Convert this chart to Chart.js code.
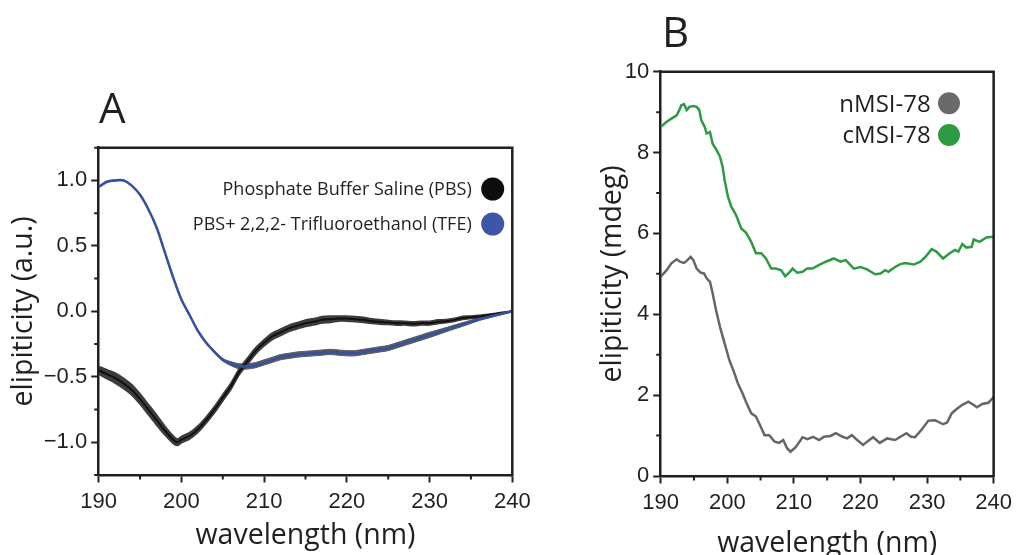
<!DOCTYPE html>
<html><head><meta charset="utf-8">
<script src="https://cdn.jsdelivr.net/npm/chart.js@4.4.0/dist/chart.umd.min.js"></script>
<style>
html,body{margin:0;padding:0;background:#fff;overflow:hidden;width:1018px;height:555px;}
canvas{position:absolute;top:0;}
#cA{left:0;}
#cB{left:545px;}
</style></head><body>
<canvas id="cA" width="545" height="555"></canvas>
<canvas id="cB" width="473" height="565"></canvas>
<script>
// ---------- Panel A data ----------
const pbsWavelength = [190,191,192,193,194,195,196,197,198,199,199.5,200,201,202,203,204,205,206,207,208,209,210,211,212,213,214,215,216,217,218,219,220,221,222,223,224,225,226,227,228,229,230,231,232,233,234,235,236,237,238,239,240];
const pbsValue = [-0.45,-0.48,-0.51,-0.55,-0.60,-0.67,-0.75,-0.83,-0.91,-0.98,-1.0,-0.98,-0.95,-0.90,-0.83,-0.75,-0.66,-0.57,-0.46,-0.38,-0.30,-0.24,-0.19,-0.16,-0.13,-0.11,-0.09,-0.08,-0.065,-0.06,-0.055,-0.055,-0.06,-0.065,-0.075,-0.08,-0.085,-0.09,-0.09,-0.095,-0.09,-0.09,-0.08,-0.075,-0.065,-0.05,-0.045,-0.04,-0.03,-0.02,-0.01,0];
const pbsError = [0.03,0.035,0.04,0.04,0.04,0.04,0.04,0.04,0.035,0.03,0.025,0.025,0.025,0.025,0.025,0.025,0.025,0.025,0.025,0.025,0.025,0.025,0.025,0.025,0.025,0.025,0.025,0.025,0.025,0.025,0.02,0.02,0.02,0.02,0.018,0.018,0.016,0.016,0.015,0.015,0.015,0.015,0.015,0.012,0.012,0.012,0.01,0.01,0.008,0.006,0.005,0.004];
const tfeWavelength = [190,191,192,193,194,195,196,197,198,199,200,201,202,203,204,205,206,207,208,209,210,211,212,213,214,215,216,217,218,219,220,221,222,223,224,225,226,227,228,229,230,231,232,233,234,235,236,237,238,239,240];
const tfeValue = [0.95,0.99,1.0,1.0,0.96,0.89,0.78,0.64,0.45,0.26,0.09,-0.03,-0.15,-0.24,-0.31,-0.37,-0.40,-0.42,-0.42,-0.41,-0.39,-0.37,-0.35,-0.34,-0.33,-0.325,-0.32,-0.315,-0.31,-0.315,-0.32,-0.32,-0.31,-0.30,-0.29,-0.28,-0.26,-0.24,-0.22,-0.20,-0.18,-0.16,-0.14,-0.12,-0.10,-0.08,-0.06,-0.045,-0.03,-0.015,0];
const tfeError = [0.005,0.005,0.005,0.005,0.005,0.005,0.005,0.005,0.005,0.005,0.005,0.005,0.005,0.006,0.008,0.01,0.015,0.02,0.02,0.02,0.02,0.02,0.02,0.02,0.02,0.02,0.02,0.02,0.02,0.02,0.02,0.02,0.02,0.02,0.02,0.02,0.02,0.02,0.02,0.02,0.02,0.018,0.016,0.015,0.014,0.012,0.01,0.008,0.006,0.005,0.004];
const seriesLabelsA = ['Phosphate Buffer Saline (PBS)','PBS+ 2,2,2- Trifluoroethanol (TFE)'];
const yTicksA = [-1.0,-0.5,0.0,0.5,1.0];
const yMinorA = [-1.25,-0.75,-0.25,0.25,0.75,1.25];
const xTicks = [190,200,210,220,230,240];
const xMinor = [195,205,215,225,235];

// ---------- Panel B data ----------
const cmsiWavelength = [190,190.9,191.9,192.4,192.8,193.1,193.5,193.9,194.3,194.9,195.4,195.8,196.1,196.6,196.9,197.4,197.8,198.4,198.9,199.3,199.6,200.1,200.6,201.3,202.1,202.8,203.6,204.3,205.1,205.8,206.6,207.3,208.1,208.7,209.3,209.8,210.5,211.3,212.0,212.8,213.8,214.8,216.0,217.0,217.8,219.0,220.0,221.0,222.2,223.0,223.7,224.2,225.2,226.0,226.7,228.0,229.0,229.7,230.7,231.4,232.4,233.4,234.2,234.7,235.3,235.9,236.7,237.0,237.9,238.9,240];
const cmsiValue = [8.64,8.76,8.87,8.92,9.05,9.17,9.20,9.05,9.13,9.15,9.13,9.05,8.80,8.64,8.47,8.51,8.22,8.06,7.90,7.65,7.32,6.91,6.66,6.46,6.12,6.02,5.79,5.51,5.51,5.38,5.13,5.13,5.09,4.94,5.03,5.13,5.03,5.05,5.13,5.13,5.22,5.30,5.38,5.30,5.34,5.13,5.17,5.11,4.99,5.01,5.09,5.05,5.17,5.24,5.27,5.23,5.30,5.41,5.61,5.55,5.38,5.51,5.59,5.55,5.74,5.65,5.67,5.85,5.79,5.90,5.92];
const nmsiWavelength = [190,190.9,191.6,192.4,192.9,193.5,193.9,194.5,194.9,195.4,196.0,196.5,196.9,197.4,197.8,198.3,198.9,199.6,200.3,200.9,201.6,202.3,202.9,203.6,204.3,204.8,205.6,206.3,207.1,207.8,208.4,209.0,209.5,210.3,211.3,212.0,212.9,213.8,214.5,215.5,216.3,217.3,218.0,218.7,219.5,220.4,221.0,221.9,222.9,224.0,225.2,226.0,226.9,227.6,228.2,229.2,230.2,231.2,232.4,233.0,233.7,234.4,235.3,236.2,236.9,237.5,238.3,239.2,240];
const nmsiValue = [4.93,5.09,5.26,5.36,5.30,5.27,5.32,5.42,5.34,5.13,5.03,5.01,4.89,4.80,4.52,4.11,3.69,3.28,2.87,2.62,2.29,2.04,1.80,1.55,1.47,1.30,1.01,1.01,0.85,0.82,0.89,0.68,0.60,0.72,0.96,0.91,0.97,0.89,0.97,0.99,1.06,0.97,0.93,1.01,0.89,0.77,0.85,0.96,0.82,0.93,0.89,0.97,1.06,0.97,0.96,1.15,1.37,1.38,1.28,1.32,1.55,1.65,1.76,1.84,1.77,1.70,1.78,1.81,1.95];
const seriesLabelsB = ['nMSI-78','cMSI-78'];
const yTicksB = [0,2,4,6,8,10];
const yMinorB = [1,3,5,7,9];

const INK = '#231f20';
const pts = (xs, ys) => xs.map((x,i)=>({x, y: ys[i]}));
const band = (xs, ys, es, s) => xs.map((x,i)=>({x, y: ys[i] + s*es[i]}));

const decor = {
  id:'decor',
  afterDraw(chart, args, o){
    const {ctx, chartArea:a, scales} = chart;
    ctx.save();
    ctx.strokeStyle = INK; ctx.lineWidth = 2.5; ctx.lineCap='square';
    ctx.beginPath();
    ctx.moveTo(a.left, a.top); ctx.lineTo(a.right, a.top); ctx.lineTo(a.right, a.bottom);
    ctx.stroke();
    ctx.lineWidth = 2; ctx.lineCap='butt';
    ctx.beginPath();
    o.minorX.forEach(v=>{const x = scales.x.getPixelForValue(v); ctx.moveTo(x, a.bottom); ctx.lineTo(x, a.bottom+4.5);});
    o.minorY.forEach(v=>{const y = scales.y.getPixelForValue(v); ctx.moveTo(a.left, y); ctx.lineTo(a.left-4.5, y);});
    ctx.stroke();
    // panel letter
    ctx.fillStyle = INK;
    ctx.font = '42px "Open Sans"';
    ctx.textAlign = 'left'; ctx.textBaseline = 'alphabetic';
    ctx.fillText(o.letter, o.letterX, o.letterY);
    // legend
    ctx.font = o.legendFont;
    ctx.textAlign = 'right';
    o.items.forEach((it, i)=>{
      ctx.fillStyle = INK;
      ctx.fillText(it.label, o.textRight, o.baselines[i]);
      ctx.fillStyle = it.color;
      ctx.beginPath(); ctx.arc(o.circleX, o.circleY[i], o.r, 0, Math.PI*2); ctx.fill();
    });
    ctx.restore();
  }
};

const fmt = v => (v < 0 ? '\u2212' : '') + Math.abs(v).toFixed(1);

function axes(xT, yT, yMin, yMax, yW, xH, yTitle, yTitlePad, xTitlePad, yFmt){
  return {
    x: {
      type:'linear', min:190, max:240,
      afterBuildTicks: s => { s.ticks = xT.map(v=>({value:v})); },
      afterFit: s => { s.height = xH; },
      ticks: { color: INK, font:{family:'"Liberation Sans", Arial', size:22}, padding:6, maxRotation:0, autoSkip:false },
      grid: { drawOnChartArea:false, tickLength:7.5, tickWidth:2, tickColor:INK },
      border: { display:true, color:INK, width:2.5 },
      title: { display:true, text:'wavelength (nm)', color:INK, font:{family:'"Open Sans"', size:28.5}, padding:{top:0, bottom:xTitlePad} }
    },
    y: {
      type:'linear', min:yMin, max:yMax,
      afterBuildTicks: s => { s.ticks = yT.map(v=>({value:v})); },
      afterFit: s => { s.width = yW; },
      ticks: { color: INK, font:{family:'"Liberation Sans", Arial', size:22}, padding:4, callback: yFmt },
      grid: { drawOnChartArea:false, tickLength:7.5, tickWidth:2, tickColor:INK },
      border: { display:true, color:INK, width:2.5 },
      title: { display:true, text:yTitle, color:INK, font:{family:'"Open Sans"', size:28.5}, padding:{top:yTitlePad, bottom:0} }
    }
  };
}

// ---------- Chart A ----------
new Chart(document.getElementById('cA'), {
  type:'line',
  data:{ datasets:[
    { data: band(tfeWavelength, tfeValue, tfeError, 1), fill:'+1', backgroundColor:'#5a5a5a', borderColor:'#5a5a5a', borderWidth:1, pointRadius:0, tension:0.3, order:5 },
    { data: band(tfeWavelength, tfeValue, tfeError, -1), fill:false, borderColor:'#5a5a5a', borderWidth:1, pointRadius:0, tension:0.3, order:5 },
    { data: band(pbsWavelength, pbsValue, pbsError, 1), fill:'+1', backgroundColor:'#3d3d3d', borderColor:'#3d3d3d', borderWidth:1.5, pointRadius:0, tension:0.3, order:4 },
    { data: band(pbsWavelength, pbsValue, pbsError, -1), fill:false, borderColor:'#3d3d3d', borderWidth:1.5, pointRadius:0, tension:0.3, order:4 },
    { label: seriesLabelsA[0], data: pts(pbsWavelength, pbsValue), borderColor:'#111', borderWidth:2, pointRadius:0, tension:0.3, fill:false, order:1 },
    { label: seriesLabelsA[1], data: pts(tfeWavelength, tfeValue), borderColor:'#3452a3', borderWidth:2.5, pointRadius:0, tension:0.3, fill:false, order:0 }
  ]},
  options:{
    responsive:false, animation:false, devicePixelRatio:1,
    layout:{ padding:{ top:147.7, right:32.7, bottom:0, left:0 } },
    plugins:{ legend:{display:false}, tooltip:{enabled:false},
      decor:{ letter:'A', letterX:99, letterY:123.3, minorX:xMinor, minorY:yMinorA,
        legendFont:'18px "Open Sans"', textRight:471.7, baselines:[195,230], circleX:492.7, circleY:[189,224], r:11.5,
        items:[{label:seriesLabelsA[0], color:'#0d0d0d'},{label:seriesLabelsA[1], color:'#3d57a6'}] } },
    scales: axes(xTicks, yTicksA, -1.25, 1.25, 98.7, 80, 'elipiticity (a.u.)', 7, 2, v=>fmt(v))
  },
  plugins:[decor]
});

// ---------- Chart B ----------
new Chart(document.getElementById('cB'), {
  type:'line',
  data:{ datasets:[
    { label: seriesLabelsB[0], data: pts(nmsiWavelength, nmsiValue), borderColor:'#666666', borderWidth:2.5, pointRadius:0, tension:0, fill:false },
    { label: seriesLabelsB[1], data: pts(cmsiWavelength, cmsiValue), borderColor:'#2f9a44', borderWidth:2.5, pointRadius:0, tension:0, fill:false }
  ]},
  options:{
    responsive:false, animation:false, devicePixelRatio:1,
    layout:{ padding:{ top:71.7, right:22.3, bottom:0, left:0 } },
    plugins:{ legend:{display:false}, tooltip:{enabled:false},
      decor:{ letter:'B', letterX:117, letterY:47.3, minorX:xMinor, minorY:yMinorB,
        legendFont:'24px "Open Sans"', textRight:385.7, baselines:[111.7,143.3], circleX:404, circleY:[103.3,135], r:11,
        items:[{label:seriesLabelsB[0], color:'#6a6a6a'},{label:seriesLabelsB[1], color:'#2f9a44'}] } },
    scales: axes(xTicks, yTicksB, 0, 10, 115.7, 89, 'elipiticity (mdeg)', 51, 4, v=>String(v))
  },
  plugins:[decor]
});
</script>
</body></html>
